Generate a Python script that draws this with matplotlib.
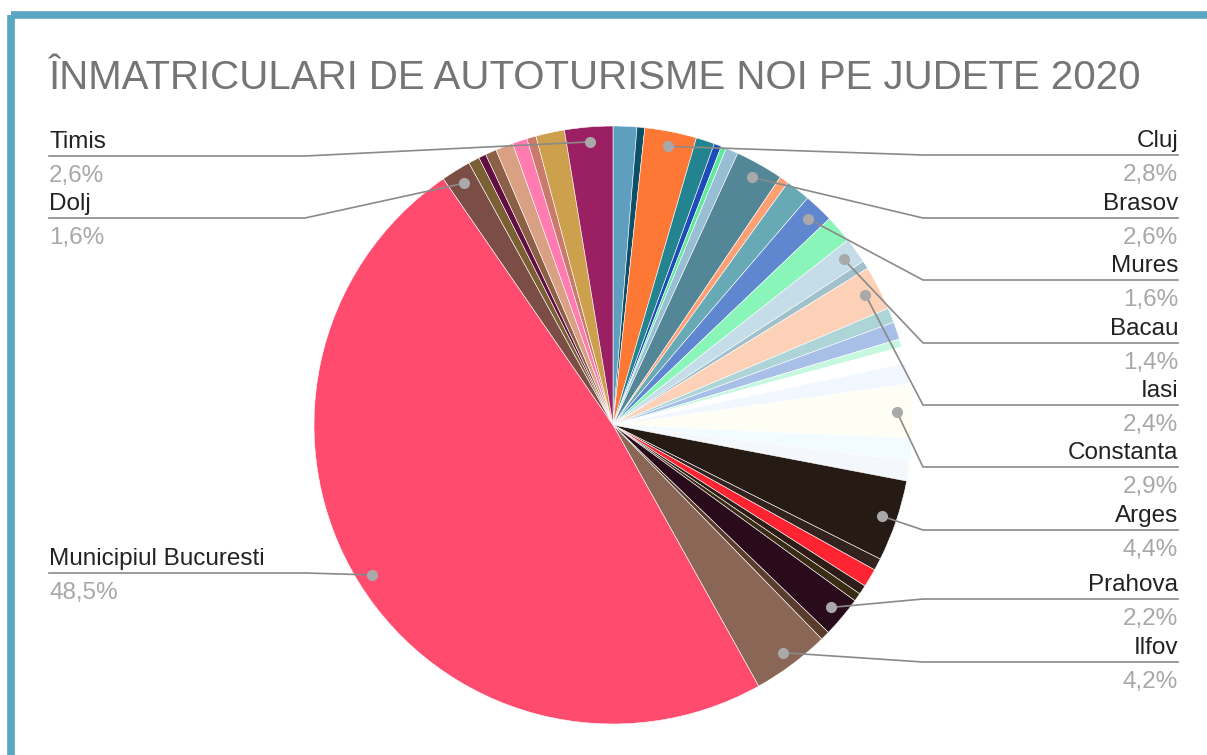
import matplotlib
matplotlib.use('Agg')
import matplotlib.pyplot as plt
from matplotlib.patches import Rectangle
import numpy as np

plt.rcParams['font.family'] = ['Liberation Sans', 'DejaVu Sans']

# Share of new car registrations per county (%), clockwise from 12 o'clock.
# Only the labelled slices have names in the picture.
names = ['', '', 'Cluj', '', '', '', '', 'Brasov', '', '', 'Mures', '', 'Bacau', '',
         'Iasi', '', '', '', '', '', 'Constanta', '', '', 'Arges', '', '', '', '',
         'Prahova', '', 'Ilfov', 'Municipiul Bucuresti', 'Dolj', '', '', '', '', '',
         '', '', 'Timis']
shares = [1.28, 0.42, 2.8, 1.0, 0.4, 0.28, 0.67, 2.6, 0.5, 1.33, 1.6, 1.5, 1.4, 0.44,
          2.4, 0.8, 0.94, 0.44, 0.9, 1.1, 2.9, 1.2, 1.1, 4.4, 0.65, 1.0, 0.5, 0.45,
          2.2, 0.5, 4.2, 48.5, 1.6, 0.6, 0.4, 0.6, 0.95, 0.8, 0.5, 1.55, 2.6]
colors = ['#5e9ebf', '#0c4f69', '#fd7834', '#23838f', '#1d4cb9', '#5eea9a', '#98bed4',
          '#538697', '#ff9f74', '#67a9b4', '#5f87cf', '#8af5b9', '#c5dde8', '#a0c0cc',
          '#fdd1b8', '#add5d8', '#a8bfe8', '#c6f8e0', '#ffffff', '#f1f7ff', '#fffef5',
          '#f2fbff', '#f4f8fc', '#251a14', '#33231f', '#ff2431', '#2f1c17', '#3a2c14',
          '#2a0b1c', '#5a3c2c', '#896656', '#ff4b6e', '#7b4d44', '#7a6033', '#620f42',
          '#8c5f47', '#d9a084', '#ff7bb0', '#c97a6a', '#cca04c', '#9b1f63']

# label layout: (side, y of the leader line in pixels)
label_pos = {
    'Timis': ('left', 156), 'Dolj': ('left', 218), 'Municipiul Bucuresti': ('left', 573),
    'Cluj': ('right', 155), 'Brasov': ('right', 218), 'Mures': ('right', 280),
    'Bacau': ('right', 343), 'Iasi': ('right', 405), 'Constanta': ('right', 467),
    'Arges': ('right', 530), 'Prahova': ('right', 599), 'Ilfov': ('right', 662),
}

W, H = 1207, 755
fig = plt.figure(figsize=(W / 100, H / 100), dpi=100)
ax = fig.add_axes([0, 0, 1, 1])

cx, cy, r = 613, 425, 299
# y axis is flipped below, so counterclockwise in data = clockwise on screen
wedges, _ = ax.pie(shares, colors=colors, startangle=-90, counterclock=True,
                   center=(cx, cy), radius=r,
                   wedgeprops=dict(edgecolor='white', linewidth=0.4))

ax.set_xlim(0, W)
ax.set_ylim(H, 0)
ax.set_aspect('equal')
ax.axis('off')

# frame border
ax.add_patch(Rectangle((11, 15), 1400, 1000, fill=False, edgecolor='#5aa7c3',
                       linewidth=5.5, joinstyle='round'))

ax.text(49, 89, 'ÎNMATRICULARI DE AUTOTURISME NOI PE JUDETE 2020', fontsize=28.95,
        color='#757575', va='baseline', ha='left')

total = sum(shares)
for w, name, val in zip(wedges, names, shares):
    if name not in label_pos:
        continue
    side, ly = label_pos[name]
    mid = np.deg2rad((w.theta1 + w.theta2) / 2)
    dx = cx + 0.95 * r * np.cos(mid)
    dy = cy + 0.95 * r * np.sin(mid)
    pct = f'{val / total * 100:.1f}'.replace('.', ',') + '%'
    if side == 'left':
        x0, x1, ha = 49, 305, 'left'
    else:
        x0, x1, ha = 1178, 923, 'right'
    ax.plot([x0, x1, dx], [ly, ly, dy], color='#8a8a8a', lw=1.2, zorder=5)
    ax.plot(dx, dy, 'o', color='#a9a9a9', markersize=7, zorder=6)
    ax.text(x0, ly - 8, name, fontsize=17.5, color='#222222', ha=ha, va='baseline')
    ax.text(x0, ly + 26, pct, fontsize=17.5, color='#a8a8a8', ha=ha, va='baseline')

fig.savefig('out.png', dpi=100)
